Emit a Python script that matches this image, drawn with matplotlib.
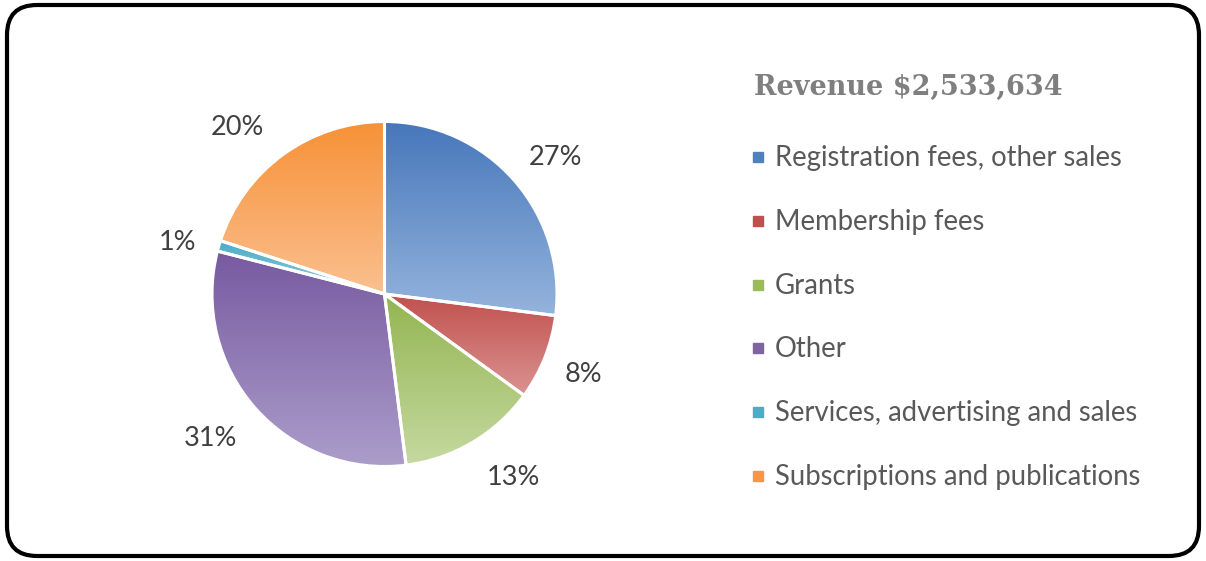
import numpy as np
import matplotlib
matplotlib.use("Agg")
import matplotlib.pyplot as plt
from matplotlib.colors import to_rgb
from matplotlib.patches import FancyBboxPatch

# data
categories = ["Registration fees, other sales", "Membership fees", "Grants",
              "Other", "Services, advertising and sales",
              "Subscriptions and publications"]
shares = [27, 8, 13, 31, 1, 20]
title = "Revenue $2,533,634"

# colours: top of the slice -> bottom of the slice
top_colors = ["#4677BA", "#C0504D", "#93B550", "#7759A0", "#4BACC6", "#F79136"]
bottom_colors = ["#95B4DD", "#DA9391", "#C5D9A0", "#AB9DCA", "#93CDDD", "#FAC090"]
base_colors = ["#4F81BD", "#C0504D", "#9BBB59", "#8064A2", "#4BACC6", "#F79646"]

# small nudges (pixels) of the % labels, excel "best fit" style
label_nudge = [(7, -8), (-5, 0), (17, 5), (-10, 0), (3, -10), (-18, -11)]

W, H = 1206, 561
fig = plt.figure(figsize=(W / 100, H / 100), dpi=100)
ax = fig.add_axes([0, 0, 1, 1])

cx, cy, rad = 384.5, H - 294, 172.5
wedges, texts, autotexts = ax.pie(
    shares, startangle=90, counterclock=False, center=(cx, cy), radius=rad,
    colors=base_colors, autopct="%.0f%%", pctdistance=1.27,
    wedgeprops=dict(edgecolor="white", linewidth=2.2),
    textprops=dict(fontsize=19.5, color="#404040", family="Lato"))

for txt, (dx, dy) in zip(autotexts, label_nudge):
    x, y = txt.get_position()
    txt.set_position((x + dx, y + dy))

# vertical gradient inside each slice
for w, c0, c1 in zip(wedges, top_colors, bottom_colors):
    x0, y0, x1, y1 = w.get_path().get_extents().extents
    t = np.linspace(0, 1, 256)[:, None]
    grad = (1 - t) * np.array(to_rgb(c0)) + t * np.array(to_rgb(c1))
    im = ax.imshow(grad[:, None, :], extent=[x0, x1, y0, y1], origin="upper",
                   aspect="auto", zorder=0.5, interpolation="bilinear")
    im.set_clip_path(w)
    w.set_facecolor("none")
    w.set_zorder(1)

# title and legend
ax.text(754, H - 95, title, fontsize=19.5, fontweight="bold", color="#7F7F7F",
        family="DejaVu Serif", va="baseline", ha="left")
row0, step = H - 158, 63.8
for i, (name, col) in enumerate(zip(categories, base_colors)):
    y = row0 - i * step
    ax.plot(757.5, y + 1, marker="s", markersize=7.5, color=col, linestyle="none")
    ax.text(775, y, name, fontsize=19.8, color="#595959", family="Lato",
            va="center", ha="left")

# rounded border
border = FancyBboxPatch((7, 5), W - 14, H - 10,
                        boxstyle="round,pad=0,rounding_size=30",
                        facecolor="none", edgecolor="black", linewidth=3)
ax.add_patch(border)

ax.set_xlim(0, W)
ax.set_ylim(0, H)
ax.set_aspect("auto")
ax.axis("off")

fig.savefig("out.png", dpi=100)
